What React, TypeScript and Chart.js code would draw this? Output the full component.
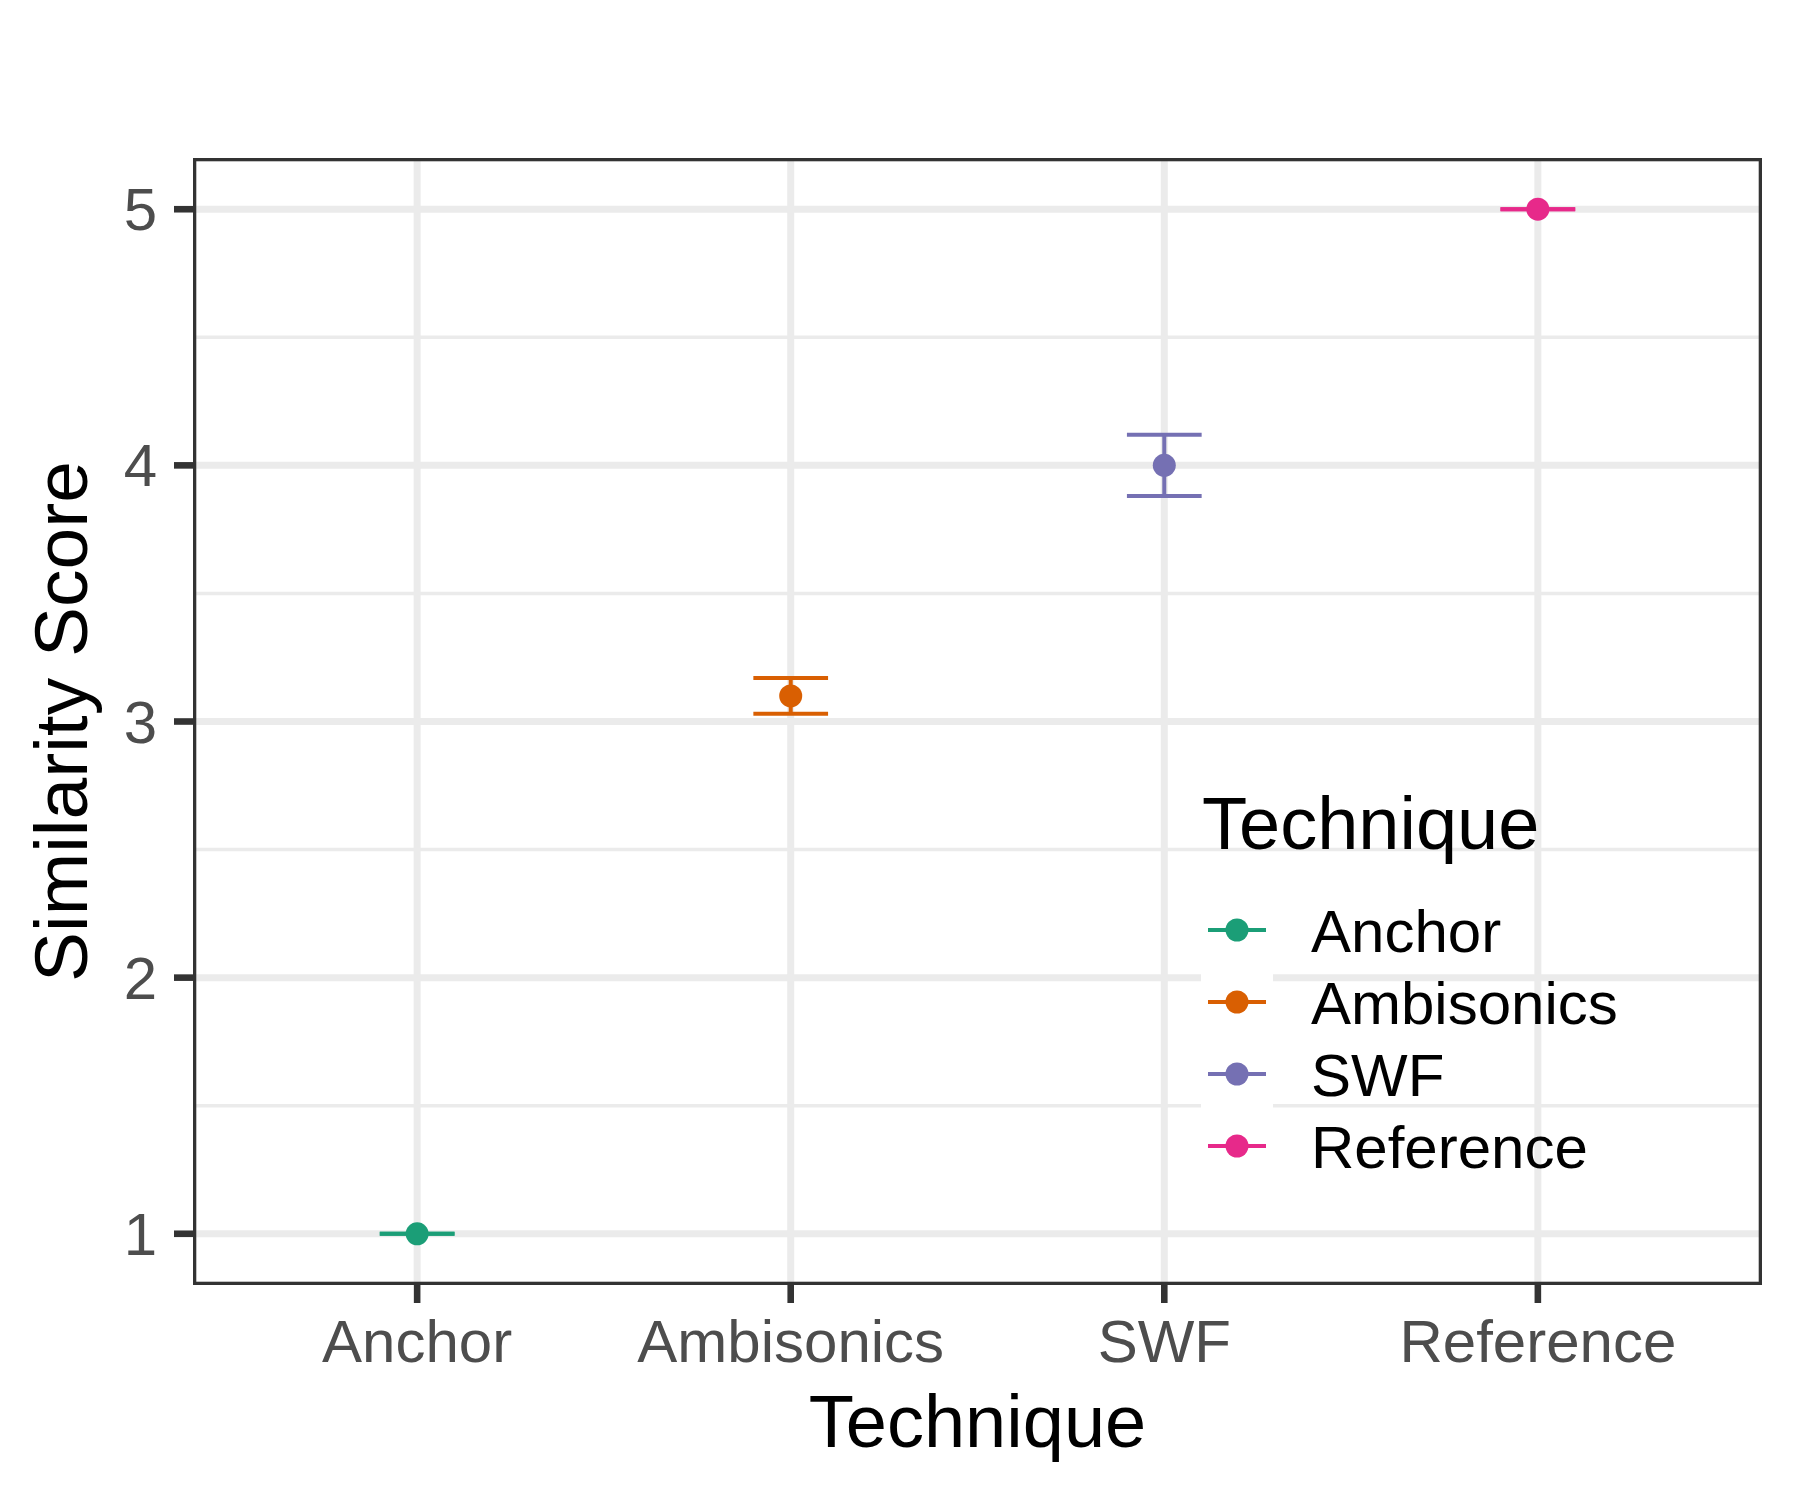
import React, { useEffect, useRef } from 'react';
import { Chart, registerables } from 'chart.js';

Chart.register(...registerables);

const categories = ['Anchor', 'Ambisonics', 'SWF', 'Reference'];
const meanScores = [1.0, 3.1, 4.0, 5.0];
const lowerScores = [1.0, 3.03, 3.88, 5.0];
const upperScores = [1.0, 3.17, 4.12, 5.0];
const seriesColors = ['#1B9E77', '#D95F02', '#7570B3', '#E7298A'];
const yTickValues = [1, 2, 3, 4, 5];
const yTickLabels = ['1', '2', '3', '4', '5'];
const yMinorValues = [1.5, 2.5, 3.5, 4.5];
const xTitle = 'Technique';
const yTitle = 'Similarity Score';
const legendTitle = 'Technique';

const FONT = '"Liberation Sans", Arial, Helvetica, sans-serif';
const TICK_FONT = `60px ${FONT}`;
const TITLE_FONT = `74px ${FONT}`;
const YTITLE_FONT = `75px ${FONT}`;

function hline(ctx: CanvasRenderingContext2D, x1: number, x2: number, y: number) {
  ctx.beginPath();
  ctx.moveTo(x1, y);
  ctx.lineTo(x2, y);
  ctx.stroke();
}
function vline(ctx: CanvasRenderingContext2D, x: number, y1: number, y2: number) {
  ctx.beginPath();
  ctx.moveTo(x, y1);
  ctx.lineTo(x, y2);
  ctx.stroke();
}

const ggPlugin = {
  id: 'ggstyle',
  beforeDatasetsDraw(chart: any) {
    const { ctx, chartArea: a, scales } = chart;
    const x = scales.x;
    const y = scales.y;
    ctx.save();
    ctx.beginPath();
    ctx.rect(a.left, a.top, a.right - a.left, a.bottom - a.top);
    ctx.clip();
    ctx.lineCap = 'butt';
    ctx.strokeStyle = '#EBEBEB';
    ctx.lineWidth = 3.5;
    yMinorValues.forEach((v) => hline(ctx, a.left, a.right, y.getPixelForValue(v)));
    ctx.lineWidth = 7;
    yTickValues.forEach((v) => hline(ctx, a.left, a.right, y.getPixelForValue(v)));
    categories.forEach((_, i) => vline(ctx, x.getPixelForValue(i), a.top, a.bottom));

    // error bars
    ctx.lineWidth = 4;
    categories.forEach((_, i) => {
      const px = x.getPixelForValue(i);
      const half = x.getPixelForValue(i + 0.1) - px;
      const pu = y.getPixelForValue(upperScores[i]);
      const pl = y.getPixelForValue(lowerScores[i]);
      ctx.strokeStyle = seriesColors[i];
      hline(ctx, px - half, px + half, pu);
      hline(ctx, px - half, px + half, pl);
      if (pl - pu > 0.5) vline(ctx, px, pu, pl);
    });
    ctx.restore();
  },
  afterDraw(chart: any) {
    const { ctx, chartArea: a, scales } = chart;
    const x = scales.x;
    const y = scales.y;
    ctx.save();
    // panel border
    ctx.strokeStyle = '#333333';
    ctx.lineWidth = 3.3;
    ctx.strokeRect(a.left + 1.65, a.top + 1.65, a.right - a.left - 3.3, a.bottom - a.top - 3.3);

    // axis ticks
    ctx.lineWidth = 6.6;
    yTickValues.forEach((v) => hline(ctx, a.left - 19, a.left, y.getPixelForValue(v)));
    categories.forEach((_, i) => vline(ctx, x.getPixelForValue(i), a.bottom, a.bottom + 18));

    // tick labels
    ctx.fillStyle = '#4D4D4D';
    ctx.font = TICK_FONT;
    ctx.textBaseline = 'alphabetic';
    ctx.textAlign = 'right';
    yTickValues.forEach((v, i) => ctx.fillText(yTickLabels[i], a.left - 36, y.getPixelForValue(v) + 21));
    ctx.textAlign = 'center';
    categories.forEach((c, i) => ctx.fillText(c, x.getPixelForValue(i), a.bottom + 77));

    // axis titles
    ctx.fillStyle = '#000000';
    ctx.font = TITLE_FONT;
    ctx.textAlign = 'center';
    ctx.fillText(xTitle, (a.left + a.right) / 2, a.bottom + 162);
    ctx.save();
    ctx.font = YTITLE_FONT;
    ctx.translate(87, (a.top + a.bottom) / 2);
    ctx.rotate(-Math.PI / 2);
    ctx.fillText(yTitle, 0, 0);
    ctx.restore();

    // legend
    const lx = 1202;
    ctx.textAlign = 'left';
    ctx.font = TITLE_FONT;
    ctx.fillText(legendTitle, lx, 849);
    const keyLeft = 1201;
    const keySize = 72;
    const firstCenter = 930;
    chart.data.datasets.forEach((ds: any, i: number) => {
      const cy = firstCenter + i * keySize;
      ctx.fillStyle = '#FFFFFF';
      ctx.fillRect(keyLeft, cy - keySize / 2, keySize, keySize);
      ctx.strokeStyle = ds.backgroundColor;
      ctx.lineWidth = 4;
      hline(ctx, keyLeft + 7, keyLeft + 65, cy);
      ctx.fillStyle = ds.backgroundColor;
      ctx.beginPath();
      ctx.arc(keyLeft + 36, cy, 11.5, 0, Math.PI * 2);
      ctx.fill();
      ctx.fillStyle = '#000000';
      ctx.font = TICK_FONT;
      ctx.fillText(ds.label, 1311, cy + 22);
    });
    ctx.restore();
  },
};

export default function App() {
  const canvasRef = useRef<HTMLCanvasElement | null>(null);

  useEffect(() => {
    const canvas = canvasRef.current;
    if (!canvas) return;
    const datasets = categories.map((c, i) => ({
      label: c,
      data: [{ x: i, y: meanScores[i] }],
      backgroundColor: seriesColors[i],
      borderColor: seriesColors[i],
      borderWidth: 0,
      pointRadius: 11.5,
      pointHoverRadius: 11.5,
      showLine: false,
    }));
    const chart = new Chart(canvas, {
      type: 'scatter',
      data: { datasets },
      options: {
        responsive: false,
        animation: false,
        devicePixelRatio: 1,
        layout: { padding: { left: 0, top: 158, right: 38, bottom: 0 } },
        plugins: { legend: { display: false }, tooltip: { enabled: false } },
        scales: {
          x: {
            type: 'linear',
            min: -0.6,
            max: 3.6,
            ticks: { display: false },
            grid: { display: false, drawTicks: false },
            border: { display: false },
            afterFit: (s: any) => {
              s.height = 215;
            },
          },
          y: {
            type: 'linear',
            min: 0.8,
            max: 5.2,
            ticks: { display: false },
            grid: { display: false, drawTicks: false },
            border: { display: false },
            afterFit: (s: any) => {
              s.width = 193;
            },
          },
        },
      },
      plugins: [ggPlugin],
    } as any);
    return () => chart.destroy();
  }, []);

  return (
    <div style={{ position: 'absolute', left: 0, top: 0, width: 1800, height: 1500, background: '#FFFFFF' }}>
      <canvas ref={canvasRef} width={1800} height={1500} style={{ width: 1800, height: 1500, display: 'block' }} />
    </div>
  );
}
